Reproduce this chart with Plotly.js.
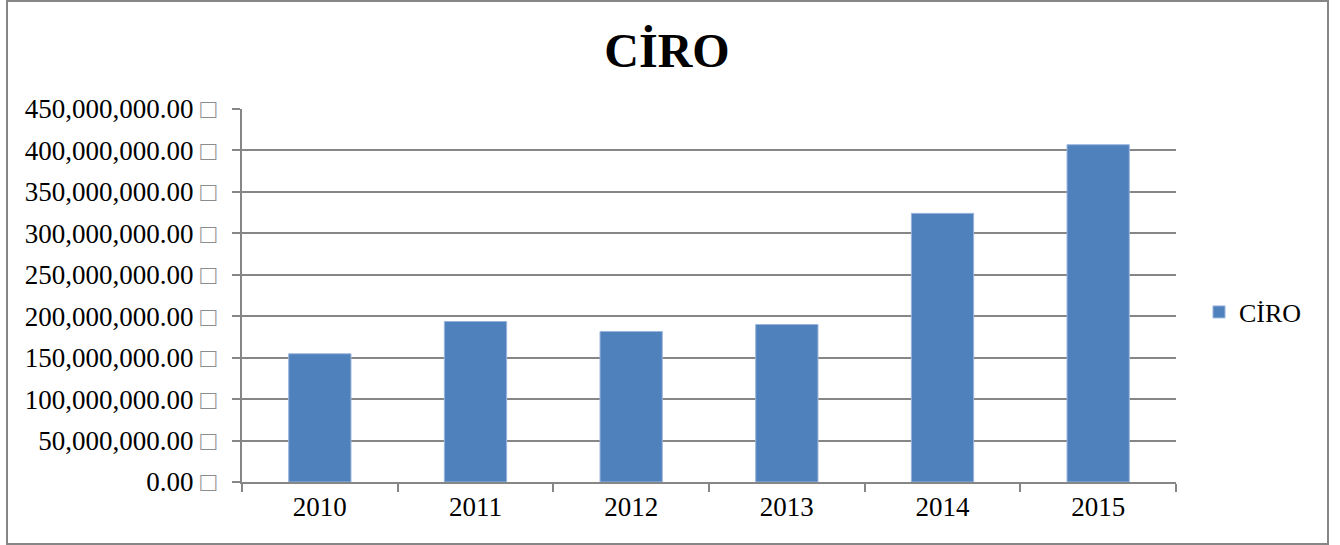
<!DOCTYPE html>
<html>
<head>
<meta charset="utf-8">
<script src="https://cdn.plot.ly/plotly-3.0.1.min.js"></script>
<style>
html,body{margin:0;padding:0;background:#fff;}
#chart{width:1340px;height:545px;}
</style>
</head>
<body>
<div id="chart"></div>
<script>
const years = ['2010', '2011', '2012', '2013', '2014', '2015'];
const ciro = [154700000, 193600000, 181600000, 190000000, 324100000, 406900000];
const yTickVals = [0, 50000000, 100000000, 150000000, 200000000, 250000000, 300000000, 350000000, 400000000, 450000000];
const yTickText = ['0.00', '50,000,000.00', '100,000,000.00', '150,000,000.00', '200,000,000.00', '250,000,000.00', '300,000,000.00', '350,000,000.00', '400,000,000.00', '450,000,000.00'];
const seriesName = 'CİRO';
const chartTitle = 'CİRO';

const W = 1340, H = 545;
const mL = 242, mR = 164, mT = 109, mB = 63;
const pw = W - mL - mR, ph = H - mT - mB;
function px2x(p){ return (p - mL) / pw; }
function py2y(p){ return (H - mB - p) / ph; }
const SERIF = 'Liberation Serif, Times New Roman, serif';

const trace = {
  type: 'bar',
  x: years,
  y: ciro,
  name: seriesName,
  marker: {color: '#4F81BD', line: {color: '#9ab5dc', width: 1}},
  hoverinfo: 'x+y'
};

const layout = {
  width: W, height: H,
  margin: {l: mL, r: mR, t: mT, b: mB, pad: 0},
  paper_bgcolor: '#ffffff',
  plot_bgcolor: '#ffffff',
  font: {family: SERIF, size: 27, color: '#000'},
  title: {
    text: '<b>' + chartTitle + '</b>',
    font: {family: SERIF, size: 48, color: '#000'},
    x: 667 / W, xanchor: 'center',
    y: 1 - 50 / H, yanchor: 'middle'
  },
  bargap: 0.6,
  showlegend: true,
  legend: {
    x: px2x(1199), xanchor: 'left',
    y: py2y(312), yanchor: 'middle',
    font: {family: SERIF, size: 26, color: '#000'},
    bgcolor: 'rgba(0,0,0,0)',
    itemwidth: 30
  },
  xaxis: {
    type: 'category',
    showgrid: false,
    showline: true, linecolor: '#868686', linewidth: 2,
    ticks: 'outside', tickson: 'boundaries', ticklen: 8, tickcolor: '#868686', tickwidth: 2,
    tickfont: {family: SERIF, size: 27, color: '#000'},
    zeroline: false
  },
  yaxis: {
    range: [0, 450000000],
    tickvals: yTickVals,
    ticktext: yTickText.map(t => t + ' <span style="color:#8c8c8c">□</span>'),
    showgrid: true, gridcolor: '#868686', gridwidth: 2,
    showline: true, linecolor: '#868686', linewidth: 2,
    ticks: 'outside', ticklen: 8, tickcolor: '#868686', tickwidth: 2,
    ticklabelstandoff: 10,
    tickfont: {family: SERIF, size: 27, color: '#000'},
    zeroline: false,
    fixedrange: true
  },
  shapes: [{
    type: 'rect', xref: 'paper', yref: 'paper',
    x0: px2x(7), x1: px2x(1328), y0: py2y(544), y1: py2y(1),
    line: {color: '#868686', width: 2}, fillcolor: 'rgba(0,0,0,0)', layer: 'below'
  }]
};

Plotly.newPlot('chart', [trace], layout, {displayModeBar: false, staticPlot: true});
</script>
</body>
</html>
